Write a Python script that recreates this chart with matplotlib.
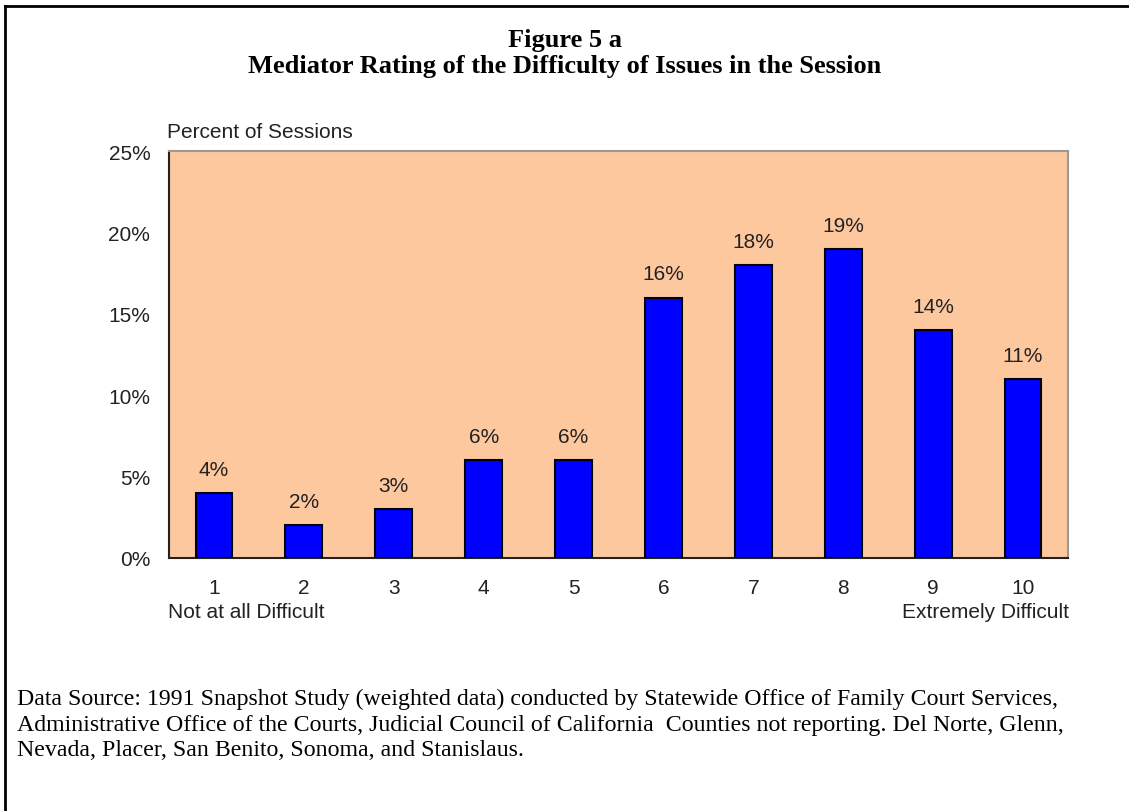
import matplotlib
matplotlib.use("Agg")
import matplotlib.pyplot as plt
from matplotlib.lines import Line2D

categories = ["1", "2", "3", "4", "5", "6", "7", "8", "9", "10"]
values = [4, 2, 3, 6, 6, 16, 18, 19, 14, 11]
yticks = [0, 5, 10, 15, 20, 25]

W, H = 1129, 812
fig = plt.figure(figsize=(W / 100, H / 100), dpi=100)
fig.patch.set_facecolor("white")

SANS = "Liberation Sans"
FS = 15
TXT = "#222222"

# plot area in pixels: left 169, right 1068, top 152, bottom 559
ax = fig.add_axes([169 / W, 1 - 559 / H, (1068 - 169) / W, (559 - 152) / H])
ax.set_facecolor("#FEC89F")
x = list(range(len(categories)))
ax.bar(x, values, width=0.41, color="#0000FF", edgecolor="black", linewidth=1.5, zorder=3)
ax.set_xlim(-0.5, len(categories) - 0.5)
ax.set_ylim(0, 25)
ax.set_yticks(yticks)
ax.set_yticklabels([f"{v}%" for v in yticks], fontsize=FS, family=SANS, color=TXT)
ax.set_xticks(x)
ax.set_xticklabels(categories, fontsize=FS, family=SANS, color=TXT)
ax.tick_params(axis="y", length=0, pad=13.5)
ax.tick_params(axis="x", length=0, pad=14.4)
for s in ["left", "bottom"]:
    ax.spines[s].set_color("#222222")
    ax.spines[s].set_linewidth(1.5)
for s in ["top", "right"]:
    ax.spines[s].set_color("#999999")
    ax.spines[s].set_linewidth(1.5)

for xi, v in zip(x, values):
    ax.annotate(f"{v}%", (xi, v), xytext=(0, 13), textcoords="offset points",
                ha="center", va="baseline", fontsize=FS, family=SANS, color=TXT)

fig.text(167 / W, 1 - 133 / H, "Percent of Sessions", ha="left", va="center",
         fontsize=FS, family=SANS, color=TXT)
fig.text(168 / W, 1 - 613 / H, "Not at all Difficult", ha="left", va="center",
         fontsize=FS, family=SANS, color=TXT)
fig.text(1069 / W, 1 - 613 / H, "Extremely Difficult", ha="right", va="center",
         fontsize=FS, family=SANS, color=TXT)

fig.text(565 / W, 1 - 40 / H, "Figure 5 a", ha="center", va="center",
         fontsize=19, family="Liberation Serif", weight="bold")
fig.text(565 / W, 1 - 67 / H, "Mediator Rating of the Difficulty of Issues in the Session",
         ha="center", va="center", fontsize=19, family="Liberation Serif", weight="bold")

foot = ["Data Source: 1991 Snapshot Study (weighted data) conducted by Statewide Office of Family Court Services,",
        "Administrative Office of the Courts, Judicial Council of California  Counties not reporting. Del Norte, Glenn,",
        "Nevada, Placer, San Benito, Sonoma, and Stanislaus."]
for i, line in enumerate(foot):
    fig.text(17 / W, 1 - (699 + 26 * i) / H, line, ha="left", va="center",
             fontsize=17.2, family="Liberation Serif")

# frame lines (top and left)
fig.add_artist(Line2D([5 / W, 1], [1 - 7 / H, 1 - 7 / H], color="black", linewidth=2))
fig.add_artist(Line2D([5 / W, 5 / W], [0, 1 - 7 / H], color="black", linewidth=2))

fig.savefig("out.png", dpi=100)
